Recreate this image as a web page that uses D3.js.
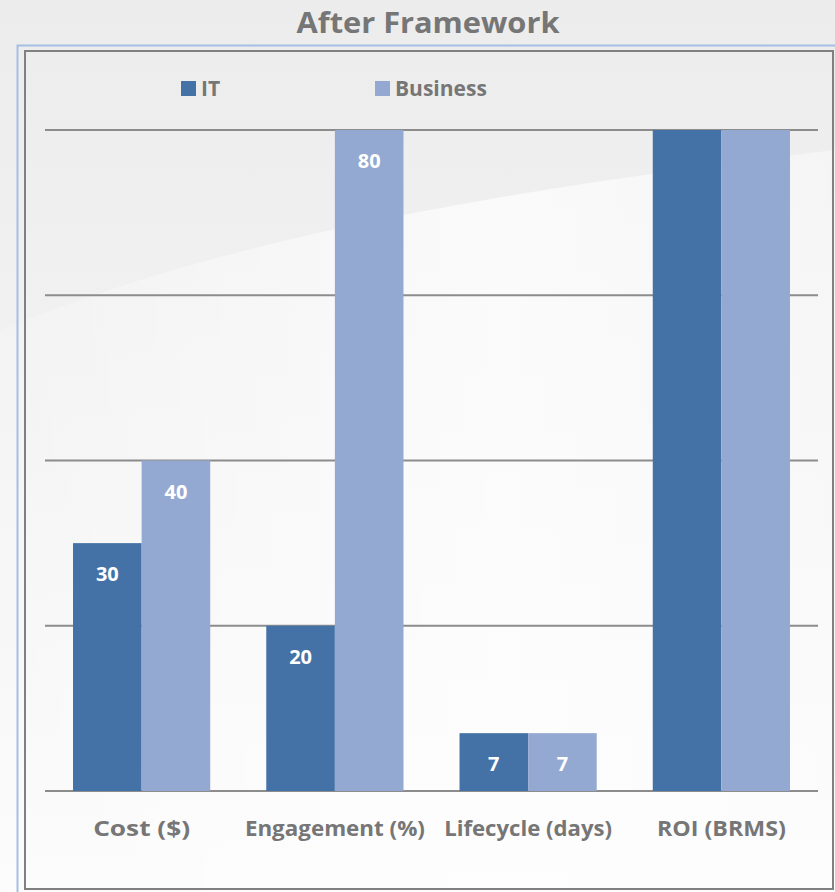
<!DOCTYPE html>
<html>
<head>
<meta charset="utf-8">
<script src="https://cdn.jsdelivr.net/npm/d3@7"></script>
<style>
  html, body { margin: 0; padding: 0; background: #efefef; }
  svg { display: block; }
  text { font-family: "Open Sans", sans-serif; font-weight: bold; }
</style>
</head>
<body>
<div id="chart"></div>
<script>
const categories = ["Cost ($)", "Engagement (%)", "Lifecycle (days)", "ROI (BRMS)"];
const seriesNames = ["IT", "Business"];
const itValues = [30, 20, 7, 100];
const businessValues = [40, 80, 7, 100];
const yTicks = [0, 20, 40, 60, 80];

const width = 835, height = 892;
const colors = { IT: "#4472a6", Business: "#94a9d1" };

const svg = d3.select("#chart").append("svg")
    .attr("width", width)
    .attr("height", height);

/* background with soft swoosh */
const defs = svg.append("defs");
const bg = defs.append("linearGradient").attr("id", "bg")
    .attr("x1", 0).attr("y1", 0).attr("x2", 0).attr("y2", 1);
bg.append("stop").attr("offset", "0%").attr("stop-color", "#ececec");
bg.append("stop").attr("offset", "45%").attr("stop-color", "#f2f2f2");
bg.append("stop").attr("offset", "100%").attr("stop-color", "#fbfbfb");
svg.append("rect").attr("width", width).attr("height", height).attr("fill", "url(#bg)");

const sw = defs.append("linearGradient").attr("id", "sw")
    .attr("x1", 0).attr("y1", 0).attr("x2", 1).attr("y2", 0);
sw.append("stop").attr("offset", "0%").attr("stop-color", "#ffffff").attr("stop-opacity", 0.15);
sw.append("stop").attr("offset", "60%").attr("stop-color", "#ffffff").attr("stop-opacity", 0.7);
sw.append("stop").attr("offset", "100%").attr("stop-color", "#ffffff").attr("stop-opacity", 0.4);
svg.append("path")
    .attr("d", "M0,330 C200,250 420,200 835,150 L835,892 L0,892 Z")
    .attr("fill", "url(#sw)");

// frames
svg.append("path")
    .attr("d", "M17.5,892 L17.5,45.5 L835,45.5")
    .attr("fill", "none").attr("stroke", "#a4bfe3").attr("stroke-width", 2);
svg.append("rect")
    .attr("x", 25).attr("y", 51).attr("width", 808).attr("height", 838)
    .attr("fill", "none").attr("stroke", "#808080").attr("stroke-width", 2);

// title
svg.append("text")
    .attr("x", 428).attr("y", 33)
    .attr("text-anchor", "middle")
    .attr("fill", "#767676")
    .attr("font-size", 29)
    .attr("textLength", 263)
    .attr("lengthAdjust", "spacingAndGlyphs")
    .text("After Framework");

/* scales */
const x0 = d3.scaleBand().domain(categories).range([45, 818])
    .paddingInner(0.29).paddingOuter(0.145);
const x1 = d3.scaleBand().domain(seriesNames).range([0, x0.bandwidth()]);
const y = d3.scaleLinear().domain([0, 80]).range([791, 130]).clamp(true);

// gridlines
svg.append("g").selectAll("line")
    .data(yTicks)
    .join("line")
    .attr("x1", 45).attr("x2", 818)
    .attr("y1", d => y(d)).attr("y2", d => y(d))
    .attr("stroke", "#8c8c8c").attr("stroke-width", 2);

const rows = categories.map((c, i) => ({
    cat: c,
    vals: [
        { key: "IT", value: itValues[i] },
        { key: "Business", value: businessValues[i] }
    ]
}));

const groups = svg.append("g").selectAll("g")
    .data(rows)
    .join("g")
    .attr("transform", d => `translate(${x0(d.cat)},0)`);

groups.selectAll("rect")
    .data(d => d.vals)
    .join("rect")
    .attr("x", d => x1(d.key))
    .attr("y", d => y(d.value))
    .attr("width", x1.bandwidth())
    .attr("height", d => y(0) - y(d.value))
    .attr("fill", d => colors[d.key]);

groups.selectAll("text")
    .data(d => d.vals.filter(v => v.value <= 80))
    .join("text")
    .attr("x", d => x1(d.key) + x1.bandwidth() / 2)
    .attr("y", d => y(d.value) + 38)
    .attr("text-anchor", "middle")
    .attr("fill", "#ffffff")
    .attr("font-size", 20)
    .text(d => d.value);

// category labels
const labelWidths = [97, 180, 168, 129];
svg.append("g").selectAll("text")
    .data(categories)
    .join("text")
    .attr("x", d => x0(d) + x0.bandwidth() / 2)
    .attr("y", 836)
    .attr("text-anchor", "middle")
    .attr("fill", "#767676")
    .attr("font-size", 21)
    .attr("textLength", (d, i) => labelWidths[i])
    .attr("lengthAdjust", "spacingAndGlyphs")
    .text(d => d);

// legend
const legendX = [181, 375];
const legend = svg.append("g").selectAll("g")
    .data(seriesNames)
    .join("g")
    .attr("transform", (d, i) => `translate(${legendX[i]},81)`);
legend.append("rect")
    .attr("width", 15).attr("height", 15)
    .attr("fill", d => colors[d]);
legend.append("text")
    .attr("x", 20).attr("y", 15)
    .attr("fill", "#767676")
    .attr("font-size", 21)
    .text(d => d);
</script>
</body>
</html>
